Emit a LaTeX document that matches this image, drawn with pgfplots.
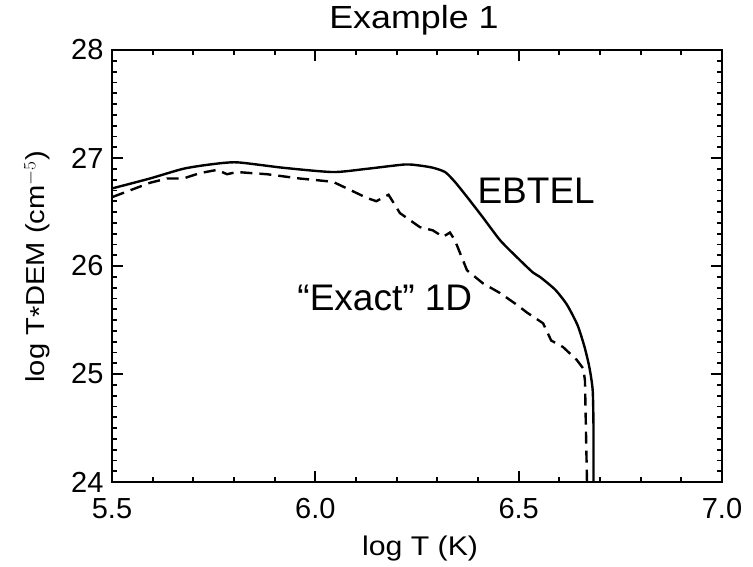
\documentclass[border=0pt]{standalone}
\usepackage{pgfplots}
\pgfplotsset{compat=1.18}
\usepackage{fontspec}
\setmainfont{Liberation Sans}
\newcommand{\wide}[1]{\scalebox{1.12}[1]{#1}}
\begin{document}
\begin{tikzpicture}
\path[use as bounding box] (-112pt,-84pt) rectangle (641pt,482pt);
\begin{axis}[
  at={(0pt,0pt)}, anchor=south west,
  scale only axis, width=610pt, height=432pt,
  xmin=5.5, xmax=7.0, ymin=24, ymax=28,
  xtick={5.5,6.0,6.5,7.0},
  xticklabels={5.5,6.0,6.5,7.0},
  ytick={24,25,26,27,28},
  minor x tick num=4, minor y tick num=9,
  tick align=inside,
  major tick length=11pt, minor tick length=5pt,
  axis line style={line width=2pt},
  every tick/.style={line width=1.8pt, black},
  /pgf/number format/assume math mode=true,
  tick label style={font=\fontsize{29}{34}\selectfont},
  xticklabel style={yshift=-13pt},
  yticklabel style={xshift=-5pt},
  title={\fontsize{32}{36}\selectfont\wide{Example 1}},
  title style={at={(axis description cs:0.495,1.054)}, anchor=center},
  xlabel={\fontsize{27}{32}\selectfont\wide{log T (K)}},
  xlabel style={at={(axis description cs:0.505,-0.153)}, anchor=center},
  ylabel={\fontsize{26}{30}\selectfont\wide{log T\raisebox{-0.3ex}{*}DEM (cm$^{-5}$)}},
  ylabel style={at={(axis description cs:-0.123,0.498)}, anchor=center},
]
\addplot[black, line width=2.4pt, smooth, tension=0.4] coordinates {
(5.502,26.72) (5.593,26.81) (5.675,26.90) (5.741,26.94) (5.807,26.96)
(5.92,26.91) (6.043,26.87) (6.127,26.90) (6.22,26.94) (6.257,26.93) (6.289,26.91)
(6.319,26.87) (6.343,26.78) (6.373,26.64) (6.412,26.45) (6.454,26.24) (6.496,26.08)
(6.535,25.94) (6.552,25.90) (6.590,25.78) (6.619,25.64) (6.645,25.45) (6.662,25.25)
(6.674,25.06) (6.682,24.85) (6.684,24.5) (6.684,24.0)
};
\addplot[black, line width=2.4pt, dash pattern=on 12pt off 7pt] coordinates {
(5.502,26.64) (5.593,26.77) (5.635,26.81) (5.675,26.81) (5.716,26.86)
(5.758,26.89) (5.783,26.85) (5.807,26.87) (5.881,26.85) (5.962,26.81)
(6.043,26.78) (6.06,26.75) (6.127,26.63) (6.15,26.60) (6.18,26.66)
(6.208,26.49) (6.257,26.36) (6.289,26.33) (6.314,26.27) (6.331,26.31)
(6.343,26.24) (6.373,25.96) (6.412,25.84) (6.454,25.75) (6.496,25.64)
(6.52,25.57) (6.56,25.47) (6.58,25.31) (6.609,25.25) (6.643,25.13)
(6.659,25.05) (6.663,24.94) (6.668,24.0)
};
\node[font=\fontsize{37}{42}\selectfont, anchor=center] at (axis cs:6.543,26.70) {EBTEL};
\node[font=\fontsize{37}{42}\selectfont, anchor=center] at (axis cs:6.171,25.70) {“Exact” 1D};
\end{axis}
\end{tikzpicture}
\end{document}
